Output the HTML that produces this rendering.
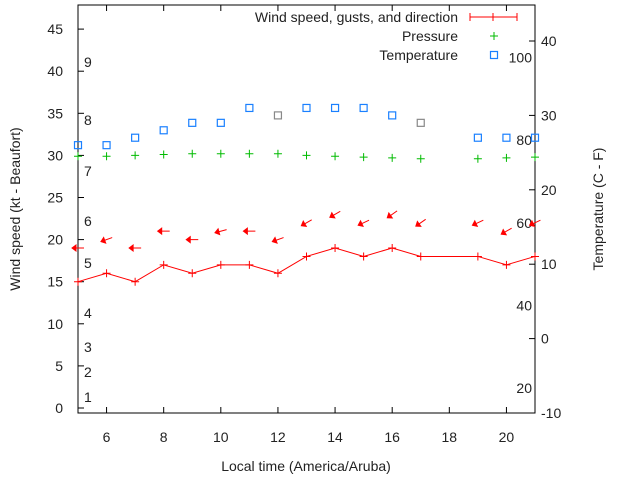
<!DOCTYPE html>
<html><head><meta charset="utf-8"><style>
body{margin:0;background:#fff}
svg text{font-family:"Liberation Sans",sans-serif;font-size:14px;fill:#222}
</style></head><body>
<svg id="c" width="640" height="480" xmlns="http://www.w3.org/2000/svg">
<rect x="0" y="0" width="640" height="480" fill="#fff"/>
<g id="g"></g>
</svg>
<script>
const hours=[5,6,7,8,9,10,11,12,13,14,15,16,17,19,20,21];
const wind=[15,16,15,17,16,17,17,16,18,19,18,19,18,18,17,18];
const gust=[19,20,19,21,20,21,21,20,22,23,22,23,22,22,21,22];
const dirDeg=[90,70,90,90,90,75,90,70,60,60,65,55,55,65,60,65];
const pressure=[29.9,29.9,30.0,30.1,30.2,30.2,30.2,30.2,30.0,29.9,29.8,29.7,29.6,29.6,29.7,29.8];
const tempC=[26,26,27,28,29,29,31,30,31,31,31,30,29,27,27,27];
const xTicks=[6,8,10,12,14,16,18,20];
const yTicks=[0,5,10,15,20,25,30,35,40,45];
const y2Ticks=[-10,0,10,20,30,40];
const beaufort=[[1,397],[2,372],[3,347],[4,313],[5,263],[6,221],[7,171],[8,120],[9,62]];
const fahr=[20,40,60,80,100];
const L=78,R=535,T=5,B=413;
const X=h=>L+(h-5)*(R-L)/16;
const Y=v=>408-v*8.42;
const Y2=c=>338.6-c*7.44;
const g=document.getElementById('g');const NS='http://www.w3.org/2000/svg';
function el(t,a,txt){const e=document.createElementNS(NS,t);for(const k in a)e.setAttribute(k,a[k]);if(txt!==undefined)e.textContent=txt;g.appendChild(e);return e;}
let e;
e=el('rect',{x:L,y:T,width:R-L,height:B-T,fill:'none',stroke:'#000','stroke-width':1});


xTicks.forEach(h=>{el('line',{x1:X(h),x2:X(h),y1:B,y2:B-6,stroke:'#000'});el('line',{x1:X(h),x2:X(h),y1:T,y2:T+6,stroke:'#000'});
e=el('text',{x:X(h),y:442,'text-anchor':'middle'},h);

});
yTicks.forEach(v=>{el('line',{x1:L,x2:L+6,y1:Y(v),y2:Y(v),stroke:'#000'});
e=el('text',{x:63,y:Y(v)+5,'text-anchor':'end'},v);

});
y2Ticks.forEach(v=>{el('line',{x1:R,x2:R-6,y1:Y2(v),y2:Y2(v),stroke:'#000'});
e=el('text',{x:541,y:Y2(v)+5},v);

});
beaufort.forEach(b=>{e=el('text',{x:84,y:b[1]+5},b[0]);

});
fahr.forEach(f=>{const c=(f-32)*5/9;e=el('text',{x:532,y:Y2(c)+5,'text-anchor':'end'},f);

});
// wind line
e=el('polyline',{points:hours.map((h,i)=>X(h)+','+Y(wind[i])).join(' '),fill:'none',stroke:'#f00','stroke-width':1});


hours.forEach((h,i)=>{e=el('path',{d:`M${X(h)-4},${Y(wind[i])}h8M${X(h)},${Y(wind[i])-4}v8`,stroke:'#f00'});


const a=dirDeg[i]*Math.PI/180,x=X(h),y=Y(gust[i]);const dx=-Math.sin(a)*12,dy=Math.cos(a)*12;
const x0=x+Math.sin(a)*6,y0=y-Math.cos(a)*6,x1=x0+dx,y1=y0+dy;
const ux=dx/12,uy=dy/12;
e=el('path',{d:`M${x0},${y0}L${x1},${y1}M${x1},${y1}l${-ux*4-uy*3},${-uy*4+ux*3}l${uy*6},${-ux*6}z`,stroke:'#f00',fill:'#f00','stroke-width':1});

});
hours.forEach((h,i)=>{e=el('path',{d:`M${X(h)-4},${Y(pressure[i])}h8M${X(h)},${Y(pressure[i])-4}v8`,stroke:'#0b0'});

});
hours.forEach((h,i)=>{e=el('rect',{x:X(h)-3.5,y:Y2(tempC[i])-3.5,width:7,height:7,fill:'none',stroke:(h==12||h==17)?'#888':'#1a80ff','stroke-width':1.2});

});
// legend
const leg=[['Wind speed, gusts, and direction',17],['Pressure',36],['Temperature',55]];
leg.forEach((l,i)=>{e=el('text',{x:458,y:l[1]+5,'text-anchor':'end'},l[0]);

});
el('path',{d:'M470,17h47M470,13v8M517,13v8M493,13v8',stroke:'#f00'});
el('path',{d:'M490,36h8M494,32v8',stroke:'#0b0'});
el('rect',{x:490.5,y:51.5,width:7,height:7,fill:'none',stroke:'#1a80ff','stroke-width':1.2});
e=el('text',{x:306,y:471,'text-anchor':'middle'},'Local time (America/Aruba)');


e=el('text',{x:0,y:0,'text-anchor':'middle',transform:'translate(20,209) rotate(-90)'},'Wind speed (kt - Beaufort)');


e=el('text',{x:0,y:0,'text-anchor':'middle',transform:'translate(603,209) rotate(-90)'},'Temperature (C - F)');


</script>
</body></html>
